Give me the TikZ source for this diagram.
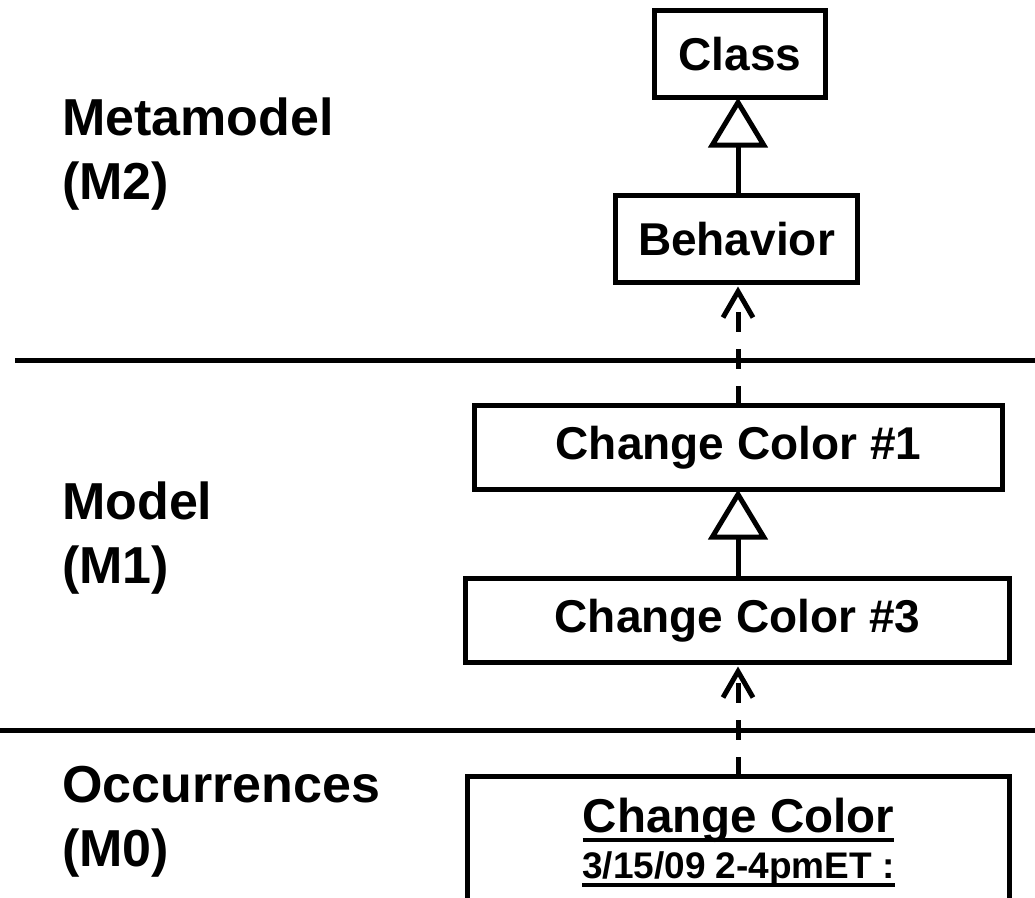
\documentclass[tikz,border=0pt]{standalone}
\usepackage{fontspec}
\setmainfont{Liberation Sans}
\usetikzlibrary{arrows.meta}
\begin{document}
\begin{tikzpicture}[x=1pt,y=-1pt,
  thick line/.style={line width=5pt},
  classbox/.style={draw, thick line, rectangle, inner sep=0pt, outer sep=0pt,
    font=\fontsize{46}{46}\selectfont\bfseries},
  level/.style={anchor=base west, inner sep=0pt,
    font=\fontsize{52}{52}\selectfont\bfseries},
  gen/.style={thick line, -{Triangle[open, length=50pt, width=59pt]}},
  dep/.style={thick line, dash pattern=on 20pt off 17pt,
    -{Straight Barb[length=26pt, width=30pt]}, shorten >=4pt},
  occtext/.style={anchor=base, inner sep=0pt, font=\bfseries},
  uline/.style={line width=4.5pt}
]
\useasboundingbox (0,0) rectangle (1035,897);
\clip (0,0) rectangle (1035,897);

% level separators
\coordinate (s1l) at (15,360);  \coordinate (s1r) at (1035,360);
\coordinate (s2l) at (0,730);   \coordinate (s2r) at (1035,730);
\draw[thick line] (s1l) -- (s1r);
\draw[thick line] (s2l) -- (s2r);

% level labels
\node[level] (m2a) at (62,135) {Metamodel};
\node[level] (m2b) at (62,199) {(M2)};
\node[level] (m1a) at (62,519) {Model};
\node[level] (m1b) at (62,583) {(M1)};
\node[level] (m0a) at (62,802) {Occurrences};
\node[level] (m0b) at (62,866) {(M0)};

% classes
\node[classbox, minimum width=171pt, minimum height=87pt] (cls) at (740,54) {Class};
\node[classbox, minimum width=242pt, minimum height=87pt] (beh) at (736.5,239) {Behavior};
\node[classbox, minimum width=528pt, minimum height=84pt] (cc1) at (738.5,447.5) {Change Color \#1};
\node[classbox, minimum width=544pt, minimum height=84pt] (cc3) at (737.5,620.5) {Change Color \#3};

% occurrence box, running past the lower edge
\coordinate (occbl) at (467.5,905);
\coordinate (occtl) at (467.5,776.5);
\coordinate (occtr) at (1009.5,776.5);
\coordinate (occbr) at (1009.5,905);
\draw[thick line, line join=miter] (occbl) -- (occtl) -- (occtr) -- (occbr);
\node[occtext, font=\fontsize{47.5}{47.5}\selectfont\bfseries] (occ1) at (738.5,832) {Change Color};
\node[occtext, font=\fontsize{37}{37}\selectfont\bfseries] (occ2) at (738.5,878) {3/15/09 2-4pmET :};
\draw[uline] ([yshift=-8pt]occ1.base west) -- ([yshift=-8pt]occ1.base east);
\draw[uline] ([yshift=-7pt]occ2.base west) -- ([yshift=-7pt]occ2.base east);

% connectors
\coordinate (ax) at (738,0);
\draw[gen] (beh.north -| ax) -- (cls.south -| ax);
\draw[gen] (cc3.north -| ax) -- (cc1.south -| ax);
\draw[dep] (cc1.north -| ax) -- (beh.south -| ax);
\draw[dep] (occtl -| ax) -- (cc3.south -| ax);
\end{tikzpicture}
\end{document}
